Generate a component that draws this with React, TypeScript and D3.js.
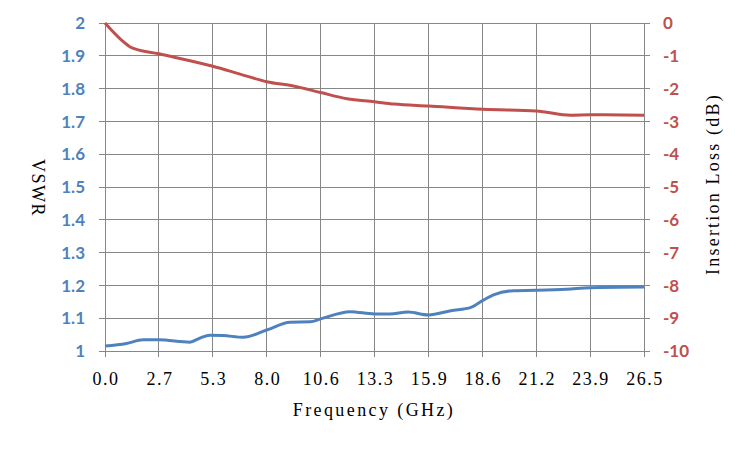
import React, { useRef, useEffect } from 'react';
import * as d3 from 'd3';

// Frequency ticks (GHz), evenly spaced over 0..26.5
const xTickLabels = ['0.0', '2.7', '5.3', '8.0', '10.6', '13.3', '15.9', '18.6', '21.2', '23.9', '26.5'];
const vswrTicks = [1, 1.1, 1.2, 1.3, 1.4, 1.5, 1.6, 1.7, 1.8, 1.9, 2];
const lossTicks = [0, -1, -2, -3, -4, -5, -6, -7, -8, -9, -10];

// VSWR trace
const vswrFreq = [0, 1.05, 1.87, 2.65, 4.17, 4.66, 5.15, 5.8, 6.8, 7.95, 9.1, 10.1, 10.6, 12.06, 13.25, 14.0, 14.9, 15.9, 17.0, 18.0, 18.6, 19.1, 20.1, 21.2, 22.7, 23.85, 26.5];
const vswrVals = [1.015, 1.023, 1.034, 1.034, 1.027, 1.039, 1.048, 1.047, 1.042, 1.064, 1.088, 1.089, 1.098, 1.12, 1.113, 1.113, 1.119, 1.11, 1.123, 1.133, 1.155, 1.171, 1.184, 1.185, 1.188, 1.193, 1.195];

// Insertion loss trace (dB)
const lossFreq = [0, 0.81, 1.3, 2.65, 5.3, 6.6, 7.95, 9.26, 10.6, 11.9, 13.25, 14.2, 15.9, 18.6, 21.2, 22.9, 23.85, 26.5];
const lossVals = [0, -0.52, -0.75, -0.94, -1.32, -1.55, -1.79, -1.92, -2.12, -2.31, -2.4, -2.47, -2.53, -2.63, -2.68, -2.81, -2.8, -2.81];

const BLUE = '#4F81BD';
const RED = '#C0504D';
const GRID = '#878787';
const TICK_FONT = 'Lato, "Open Sans", sans-serif';
const TITLE_FONT = '"Liberation Serif", serif';

export default function App() {
    const svgRef = useRef<SVGSVGElement>(null);

    useEffect(() => {
        document.body.style.margin = '0';
        if (!svgRef.current) return;

        const width = 750;
        const height = 450;
        const margin = { top: 23, right: 106, bottom: 99, left: 105 };

        const svg = d3.select(svgRef.current)
            .attr('width', width)
            .attr('height', height);

        svg.selectAll('*').remove();

        const fMax = 26.5;
        const x = d3.scaleLinear()
            .domain([0, fMax])
            .range([margin.left, width - margin.right]);

        const yL = d3.scaleLinear()
            .domain([1, 2])
            .range([height - margin.bottom, margin.top]);

        const yR = d3.scaleLinear()
            .domain([-10, 0])
            .range([height - margin.bottom, margin.top]);

        const xTickVals = xTickLabels.map((_, i) => (i * fMax) / (xTickLabels.length - 1));

        // grid
        const grid = svg.append('g').attr('stroke', GRID).attr('stroke-width', 1).attr('shape-rendering', 'crispEdges');
        vswrTicks.forEach(t => {
            grid.append('line')
                .attr('x1', margin.left - 6).attr('x2', width - margin.right + 6)
                .attr('y1', yL(t)).attr('y2', yL(t));
        });
        xTickVals.forEach(t => {
            grid.append('line')
                .attr('x1', x(t)).attr('x2', x(t))
                .attr('y1', margin.top).attr('y2', height - margin.bottom + 6);
        });

        // left axis labels
        svg.append('g')
            .selectAll('text')
            .data(vswrTicks)
            .join('text')
            .attr('x', margin.left - 20)
            .attr('y', d => yL(d))
            .attr('dy', '0.36em')
            .attr('text-anchor', 'end')
            .attr('fill', BLUE)
            .attr('font-family', TICK_FONT)
            .attr('font-weight', 'bold')
            .attr('font-size', 17)
            .text(d => d3.format('')(d));

        // right axis labels
        svg.append('g')
            .selectAll('text')
            .data(lossTicks)
            .join('text')
            .attr('x', width - margin.right + 19)
            .attr('y', d => yR(d))
            .attr('dy', '0.36em')
            .attr('text-anchor', 'start')
            .attr('fill', RED)
            .attr('font-family', TICK_FONT)
            .attr('font-weight', 'bold')
            .attr('font-size', 17)
            .text(d => (d < 0 ? '-' + Math.abs(d) : String(d)));

        // x labels
        svg.append('g')
            .selectAll('text')
            .data(xTickVals)
            .join('text')
            .attr('x', d => x(d) + 1)
            .attr('y', height - margin.bottom + 34)
            .attr('text-anchor', 'middle')
            .attr('fill', '#000')
            .attr('font-family', TITLE_FONT)
            .attr('font-size', 18)
            .attr('letter-spacing', 1.5)
            .text((_, i) => xTickLabels[i]);

        // lines
        const vswrLine = d3.line<number>()
            .x((_, i) => x(vswrFreq[i]))
            .y(d => yL(d))
            .curve(d3.curveMonotoneX);

        const lossLine = d3.line<number>()
            .x((_, i) => x(lossFreq[i]))
            .y(d => yR(d))
            .curve(d3.curveMonotoneX);

        svg.append('path')
            .datum(vswrVals)
            .attr('fill', 'none')
            .attr('stroke', BLUE)
            .attr('stroke-width', 3)
            .attr('stroke-linejoin', 'round')
            .attr('d', vswrLine);

        svg.append('path')
            .datum(lossVals)
            .attr('fill', 'none')
            .attr('stroke', RED)
            .attr('stroke-width', 3)
            .attr('stroke-linejoin', 'round')
            .attr('d', lossLine);

        // axis titles
        svg.append('text')
            .attr('transform', `translate(32,188) rotate(90)`)
            .attr('text-anchor', 'middle')
            .attr('font-family', TITLE_FONT)
            .attr('font-size', 18)
            .attr('letter-spacing', 1.5)
            .attr('fill', '#000')
            .text('VSWR');

        svg.append('text')
            .attr('transform', `translate(719,184) rotate(-90)`)
            .attr('text-anchor', 'middle')
            .attr('font-family', TITLE_FONT)
            .attr('font-size', 18)
            .attr('letter-spacing', 2.2)
            .attr('fill', '#000')
            .text('Insertion Loss (dB)');

        svg.append('text')
            .attr('x', 374)
            .attr('y', height - margin.bottom + 65)
            .attr('text-anchor', 'middle')
            .attr('font-family', TITLE_FONT)
            .attr('font-size', 18)
            .attr('letter-spacing', 2.4)
            .attr('fill', '#000')
            .text('Frequency (GHz)');
    }, []);

    return <svg ref={svgRef} style={{ display: 'block' }} />;
}
